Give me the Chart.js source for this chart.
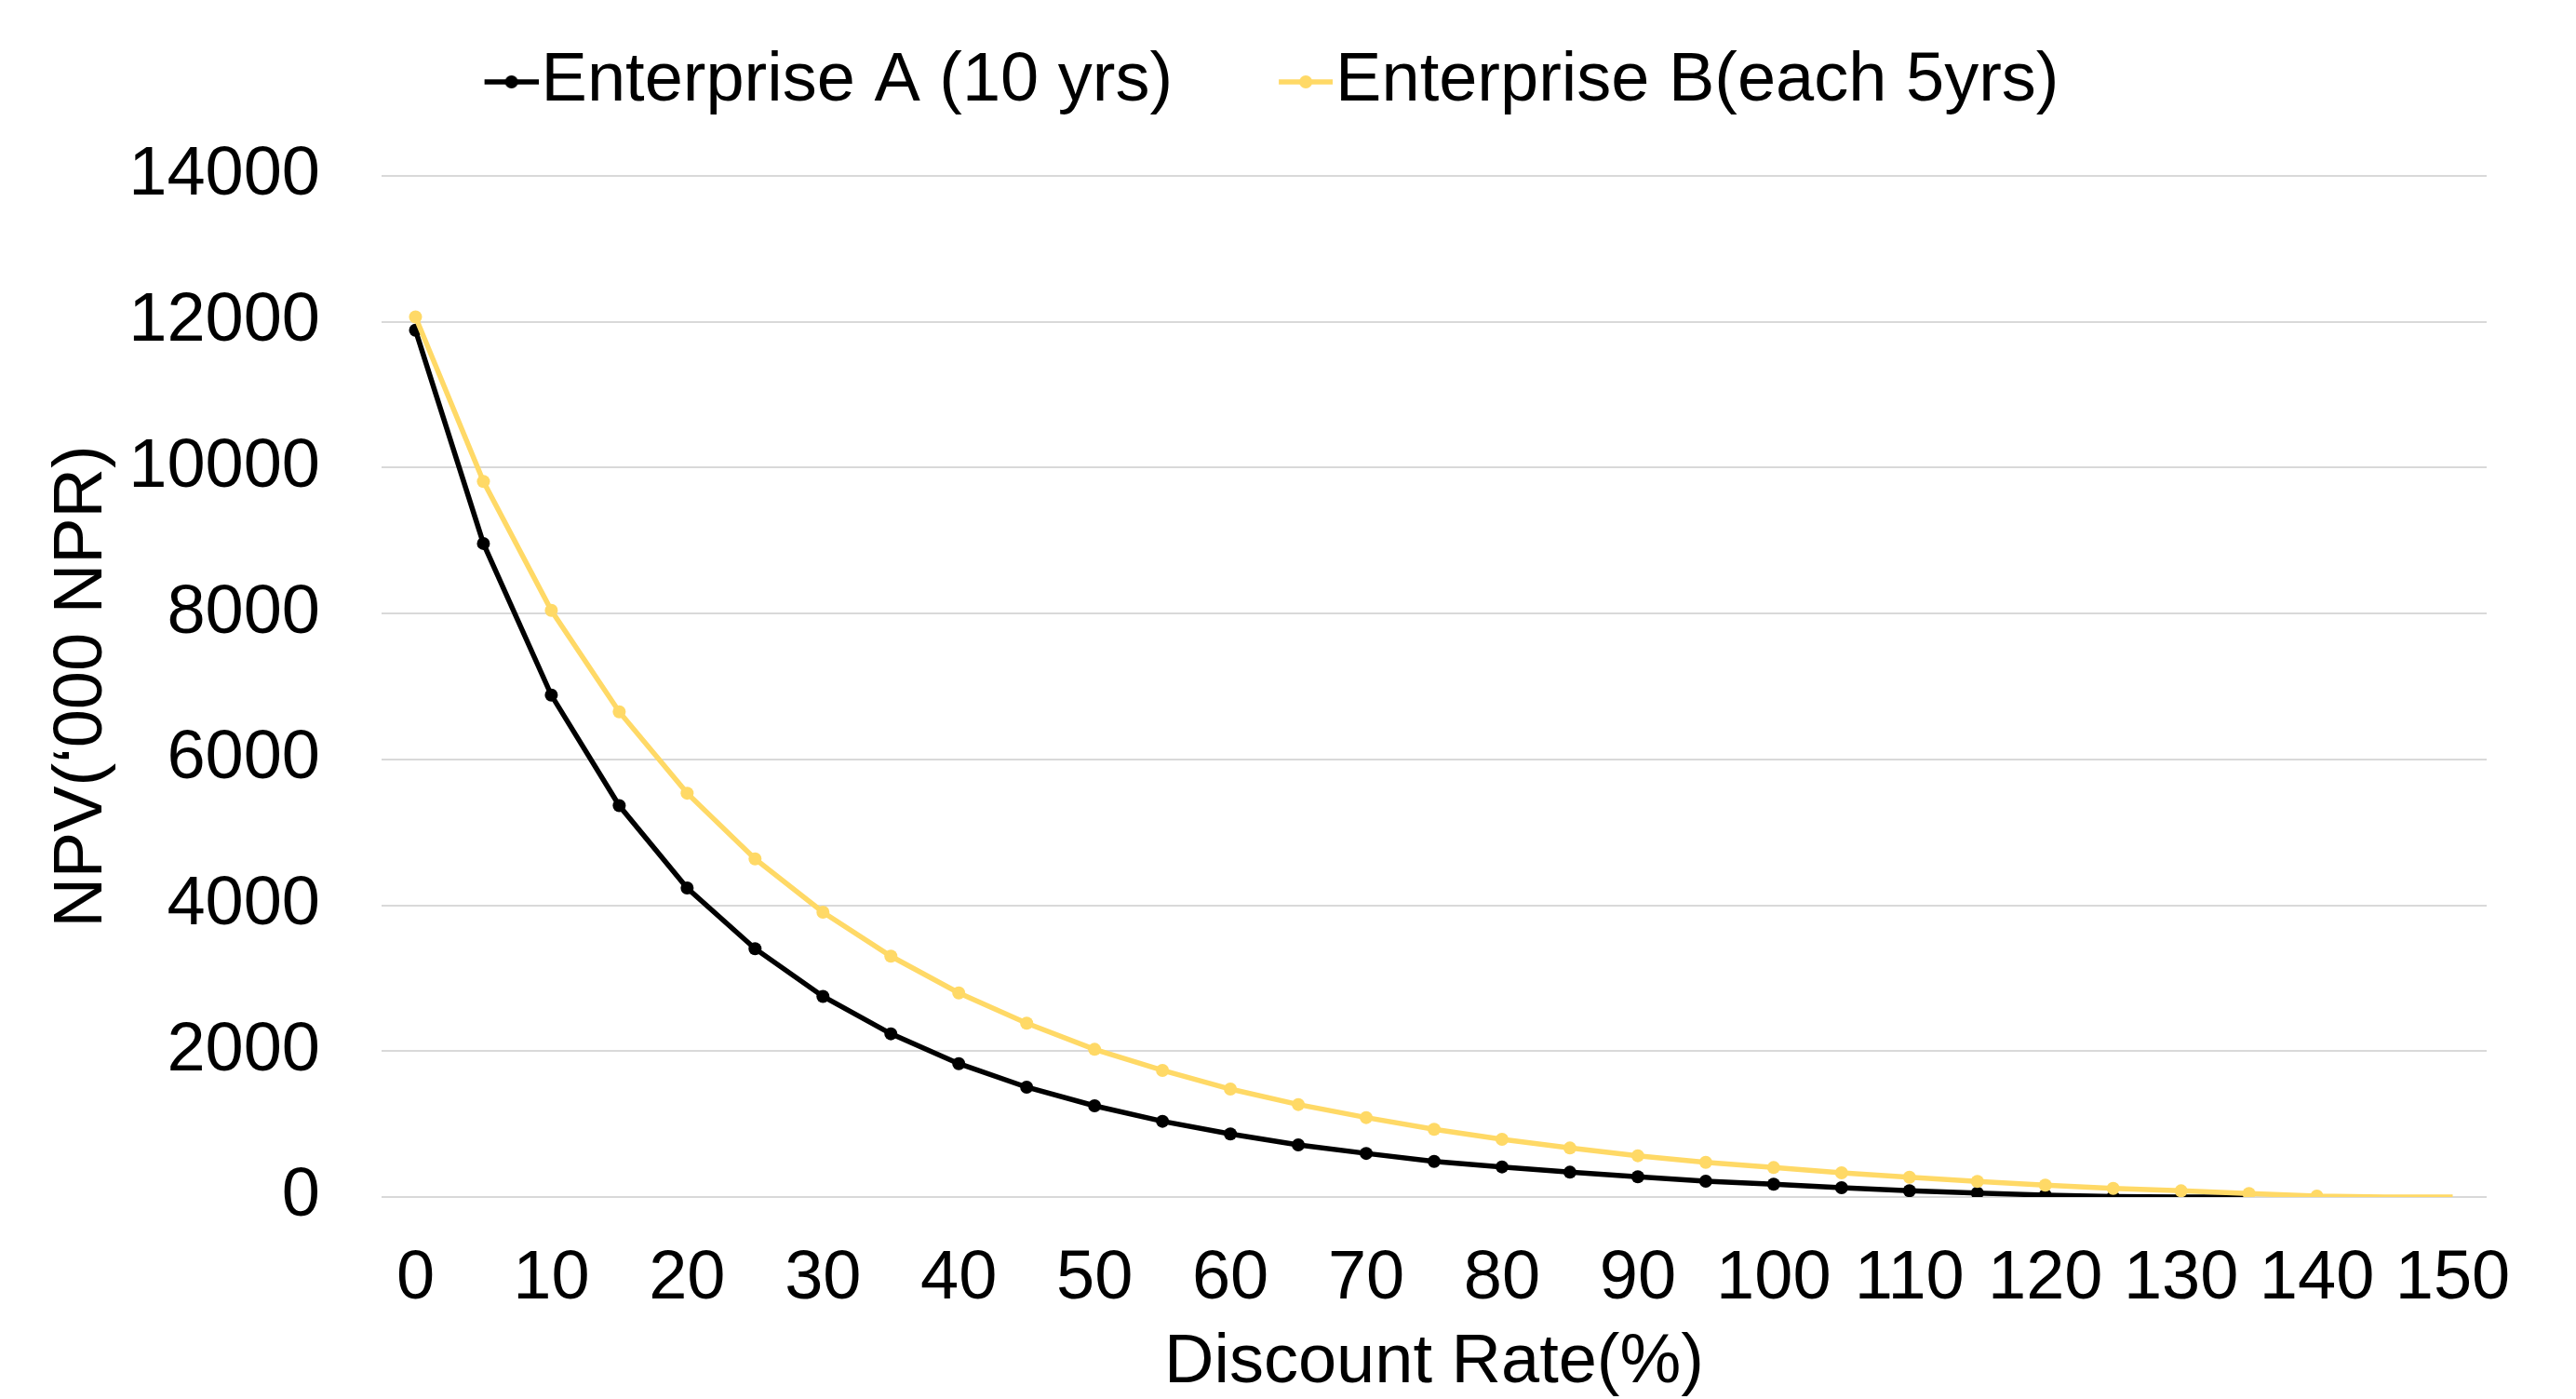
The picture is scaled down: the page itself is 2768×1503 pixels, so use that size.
<!DOCTYPE html>
<html>
<head>
<meta charset="utf-8">
<script src="https://cdn.jsdelivr.net/npm/chart.js@4.4.1/dist/chart.umd.min.js"></script>
<style>
    html, body { margin: 0; padding: 0; background: #fff; }
    #wrap { width: 2768px; height: 1503px; }
</style>
</head>
<body>
<div id="wrap"><canvas id="npvChart" width="2768" height="1503"></canvas></div>
<script>
// === DATA ===
const discountRates = ['0', '5', '10', '15', '20', '25', '30', '35', '40', '45', '50', '55', '60', '65', '70', '75',
    '80', '85', '90', '95', '100', '105', '110', '115', '120', '125', '130', '135', '140', '145', '150'];
const xTickLabels = ['0', '10', '20', '30', '40', '50', '60', '70', '80', '90', '100', '110', '120', '130', '140', '150'];
const yTickValues = [0, 2000, 4000, 6000, 8000, 10000, 12000, 14000];

const npvEnterpriseA = [11884, 8960, 6881, 5366, 4237, 3405, 2751, 2238, 1829, 1506, 1251, 1038, 864, 715, 598, 489,
    413, 340, 277, 217, 175, 128, 87, 55, 26, 5, 0, 0, null, null, null];
const npvEnterpriseB = [12066, 9810, 8043, 6653, 5537, 4636, 3905, 3302, 2799, 2383, 2025, 1736, 1480, 1268, 1089, 928,
    791, 672, 566, 476, 404, 332, 272, 213, 162, 119, 85, 47, 13, 0, 0];

// last point that carries a marker
const lastMarkerA = 25;
const lastMarkerB = 28;

const colorA = '#000000';
const colorB = '#FFD966';
const FONT = "'Liberation Sans', Arial, sans-serif";

Chart.defaults.font.family = FONT;
Chart.defaults.font.size = 74;
Chart.defaults.color = '#000';

// legend icon: short line with a dot, like the office chart legend
function legendIcon(color) {
    const c = document.createElement('canvas');
    c.width = 196;
    c.height = 18;
    const g = c.getContext('2d');
    g.strokeStyle = color;
    g.lineWidth = 5.5;
    g.beginPath();
    g.moveTo(c.width - 58, 9);
    g.lineTo(c.width, 9);
    g.stroke();
    g.fillStyle = color;
    g.beginPath();
    g.arc(c.width - 29, 9, 7, 0, Math.PI * 2);
    g.fill();
    return c;
}
const icons = [legendIcon(colorA), legendIcon(colorB)];

// legend spacing tweak: extra gap under the legend, shift row left a bit
const legendTweak = {
    id: 'legendTweak',
    beforeInit(chart) {
        const legend = chart.legend;
        const fit = legend.fit;
        legend.fit = function () {
            fit.call(legend);
            legend.height += 54;
            legend.lineWidths[0] += 43;
        };
    }
};

new Chart(document.getElementById('npvChart'), {
    type: 'line',
    data: {
        labels: discountRates,
        datasets: [{
            label: 'Enterprise A (10 yrs)',
            data: npvEnterpriseA,
            borderColor: colorA,
            backgroundColor: colorA,
            borderWidth: 5.5,
            pointRadius: npvEnterpriseA.map((v, i) => i <= lastMarkerA ? 7 : 0),
            pointBorderWidth: 0,
            pointBackgroundColor: colorA,
            tension: 0,
            order: 2
        }, {
            label: 'Enterprise B(each 5yrs)',
            data: npvEnterpriseB,
            borderColor: colorB,
            backgroundColor: colorB,
            borderWidth: 5.5,
            pointRadius: npvEnterpriseB.map((v, i) => i <= lastMarkerB ? 7 : 0),
            pointBorderWidth: 0,
            pointBackgroundColor: colorB,
            tension: 0,
            order: 1
        }]
    },
    options: {
        responsive: false,
        animation: false,
        devicePixelRatio: 1,
        layout: { padding: { top: 41, right: 96, bottom: 0, left: 0 } },
        plugins: {
            tooltip: { enabled: false },
            legend: {
                position: 'top',
                align: 'center',
                labels: {
                    usePointStyle: true,
                    pointStyleWidth: 128,
                    padding: 10,
                    font: { size: 74 },
                    color: '#000',
                    sort: (a, b) => a.datasetIndex - b.datasetIndex,
                    generateLabels(chart) {
                        const items = Chart.defaults.plugins.legend.labels.generateLabels(chart);
                        items.forEach(it => { it.pointStyle = icons[it.datasetIndex]; });
                        return items;
                    }
                }
            }
        },
        scales: {
            x: {
                type: 'category',
                offset: true,
                grid: { display: false, drawTicks: false },
                border: { display: false },
                ticks: {
                    autoSkip: false,
                    maxRotation: 0,
                    padding: 44,
                    font: { size: 74 },
                    callback: function (value) {
                        const lab = this.getLabelForValue(value);
                        return xTickLabels.includes(lab) ? lab : '';
                    }
                },
                title: {
                    display: true,
                    text: 'Discount Rate(%)',
                    font: { size: 74 },
                    padding: { top: 0, bottom: -6 }
                },
                afterFit: s => { s.height = 217; }
            },
            y: {
                min: 0,
                max: 14000,
                grid: { color: '#D9D9D9', lineWidth: 2, drawTicks: false },
                border: { display: false },
                afterBuildTicks: s => { s.ticks = yTickValues.map(v => ({ value: v })); },
                ticks: { padding: 66, font: { size: 74 }, callback: v => String(v) },
                title: {
                    display: true,
                    text: 'NPV(\u2018000 NPR)',
                    font: { size: 74 },
                    padding: { top: 44, bottom: 0 }
                },
                afterFit: s => { s.width = 410; }
            }
        }
    },
    plugins: [legendTweak]
});
</script>
</body>
</html>
